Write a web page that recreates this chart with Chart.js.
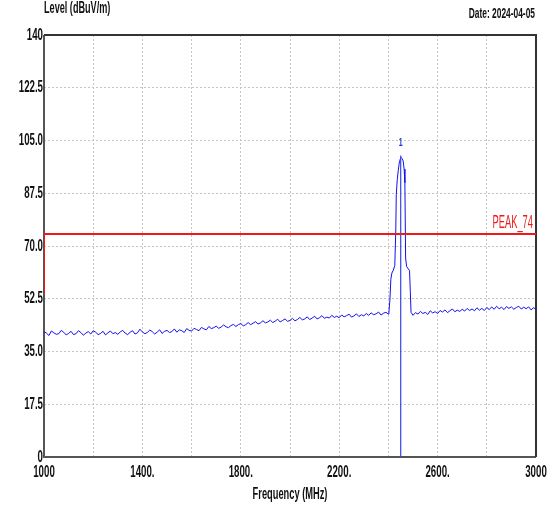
<!DOCTYPE html>
<html>
<head>
<meta charset="utf-8">
<script src="https://cdn.jsdelivr.net/npm/chart.js@4/dist/chart.umd.min.js"></script>
<style>
  html, body { margin: 0; padding: 0; background: #fff; }
  #wrap { width: 557px; height: 506px; }
</style>
</head>
<body>
<div id="wrap"><canvas id="levelChart" width="557" height="506"></canvas></div>
<script>
// tick labels
const xTickLabels = { 1000: '1000', 1400: '1400.', 1800: '1800.', 2200: '2200.', 2600: '2600.', 3000: '3000' };
const yTickLabels = ['0', '17.5', '35.0', '52.5', '70.0', '87.5', '105.0', '122.5', '140'];

// sweep before the peak: 1000 .. 2400 MHz, one reading every 10 MHz
const sweepStart = 1000;
const sweepStep = 10;
const lowLevels = [
  41.6, 41.1, 40.3, 41.8, 41.2, 40.7, 40.9, 42.0, 41.4, 40.5,
  41.0, 41.7, 40.6, 40.9, 41.9, 41.3, 40.4, 41.1, 41.6, 40.8,
  41.9, 41.4, 40.6, 41.0, 41.7, 40.5, 41.2, 41.8, 40.9, 41.3,
  40.7, 41.5, 42.0, 41.1, 40.6, 41.4, 41.9, 40.8, 41.2, 42.4,
  41.5, 40.9, 41.3, 42.1, 41.6, 40.8, 41.4, 42.2, 41.0, 41.7,
  42.0, 41.3, 41.6, 42.5, 41.4, 42.2, 41.9, 41.3, 42.6, 42.0,
  41.8, 42.7, 42.3, 41.9, 43.0, 42.5, 42.2, 43.3, 42.6, 42.9,
  43.4, 42.7, 43.1, 43.8, 43.2, 42.9, 43.6, 44.0, 43.3, 43.9,
  44.3, 43.5, 43.9, 44.6, 43.9, 44.4, 44.9, 44.1, 44.5, 45.2,
  44.5, 44.8, 45.4, 44.6, 45.1, 45.7, 44.8, 45.3, 45.8, 45.0,
  45.3, 46.0, 45.2, 45.6, 46.3, 45.5, 45.8, 46.5, 45.6, 46.1,
  46.7, 45.8, 46.2, 46.9, 46.0, 46.4, 46.1, 47.0, 46.3, 46.7,
  46.2, 47.1, 46.5, 46.9, 47.4, 46.4, 46.8, 47.5, 46.6, 47.2,
  46.8, 47.6, 47.0, 47.8, 47.2, 47.5, 48.1, 47.1, 47.7, 48.0,
  47.4
];

// the signal around 2.45 GHz
const peakFreqs  = [2402, 2406, 2410, 2414, 2420, 2426, 2430, 2432, 2436, 2440, 2444, 2448, 2452, 2456, 2460, 2464, 2467, 2470, 2474, 2480, 2486, 2489, 2492];
const peakLevels = [48.0, 52.0, 59.0, 61.0, 62.0, 63.5, 75.0, 87.0, 92.0, 95.0, 97.5, 98.8, 99.3, 99.0, 98.2, 95.5, 91.0, 66.0, 63.2, 62.5, 61.8, 55.0, 48.0];

// sweep after the peak: 2500 .. 3000 MHz
const highStart = 2500;
const highLevels = [
  47.0, 47.9, 47.4, 48.3, 47.6, 48.0, 47.3, 48.5, 47.8, 48.2,
  47.6, 48.6, 48.1, 48.8, 47.9, 48.5, 49.1, 48.2, 48.7, 48.3,
  49.0, 48.4, 49.3, 48.6, 49.1, 48.5, 49.5, 48.7, 49.3, 48.6,
  49.6, 48.9, 49.8, 49.0, 50.0, 49.2, 49.7, 48.9, 49.9, 49.3,
  49.8, 49.0, 49.6, 50.0, 49.1, 49.7, 49.2, 49.8, 48.8, 49.5,
  49.0
];

// limit line and marker
const limitFreqs = [1000, 1000, 3000];
const limitLevels = [54, 74, 74];
const limitName = 'PEAK_74';
const markerFreq = 2450;
const markerLevels = [0, 100];
const markerLabel = '1';
const markerLabelLevel = 104;

const trace = [];
lowLevels.forEach((v, i) => trace.push({ x: sweepStart + i * sweepStep, y: v }));
peakFreqs.forEach((f, i) => trace.push({ x: f, y: peakLevels[i] }));
highLevels.forEach((v, i) => trace.push({ x: highStart + i * sweepStep, y: v }));

const limit = limitFreqs.map((f, i) => ({ x: f, y: limitLevels[i] }));
const marker = markerLevels.map(v => ({ x: markerFreq, y: v }));

const FONT = "'Liberation Sans', Arial, sans-serif";
const textColor = '#111';
const red = 'rgb(240,25,25)';

// the reference uses a narrow font, so squeeze the text sideways
function narrowText(ctx, text, x, y, font, sx, align, color) {
  ctx.save();
  ctx.font = font;
  ctx.fillStyle = color;
  ctx.textAlign = align;
  ctx.textBaseline = 'middle';
  ctx.translate(x, y);
  ctx.scale(sx, 1);
  ctx.fillText(text, 0, 0);
  ctx.restore();
}

const extras = {
  id: 'extras',
  beforeDatasetsDraw(chart) {
    const { ctx, chartArea: a } = chart;
    ctx.save();
    // frame: grey axes on left/bottom, dark top/right
    ctx.lineWidth = 2;
    ctx.strokeStyle = '#555';
    ctx.beginPath();
    ctx.moveTo(a.left, a.top);
    ctx.lineTo(a.left, a.bottom);
    ctx.lineTo(a.right, a.bottom);
    ctx.stroke();
    ctx.strokeStyle = '#333';
    ctx.beginPath();
    ctx.moveTo(a.left, a.top);
    ctx.lineTo(a.right, a.top);
    ctx.lineTo(a.right, a.bottom);
    ctx.stroke();
    ctx.restore();
  },
  afterDraw(chart) {
    const { ctx, chartArea: a, scales } = chart;

    // tick labels, placed by the scales
    scales.y.ticks.forEach((t, i) => {
      narrowText(ctx, yTickLabels[i], a.left - 1, scales.y.getPixelForValue(t.value), 'bold 17px ' + FONT, 0.57, 'right', textColor);
    });
    scales.x.ticks.forEach(t => {
      const lbl = xTickLabels[t.value];
      if (lbl) narrowText(ctx, lbl, scales.x.getPixelForValue(t.value), a.bottom + 15, 'bold 17px ' + FONT, 0.57, 'center', textColor);
    });

    narrowText(ctx, 'Frequency (MHz)', (a.left + a.right) / 2, 495, 'bold 16px ' + FONT, 0.58, 'center', textColor);
    narrowText(ctx, 'Level (dBuV/m)', a.left, 9, 'bold 16px ' + FONT, 0.57, 'left', textColor);
    narrowText(ctx, 'Date: 2024-04-05', 535, 14, 'bold 15px ' + FONT, 0.56, 'right', textColor);

    narrowText(ctx, limitName, a.right - 3, scales.y.getPixelForValue(74) - 11, '18px ' + FONT, 0.52, 'right', red);
    narrowText(ctx, markerLabel, scales.x.getPixelForValue(markerFreq), scales.y.getPixelForValue(markerLabelLevel), 'bold 10px ' + FONT, 0.7, 'center', '#2030e0');
  }
};

const ctx = document.getElementById('levelChart').getContext('2d');
new Chart(ctx, {
  type: 'scatter',
  data: {
    datasets: [
      {
        label: limitName,
        data: limit,
        showLine: true,
        borderColor: red,
        borderWidth: 2,
        pointRadius: 0,
        tension: 0
      },
      {
        label: 'marker',
        data: marker,
        showLine: true,
        borderColor: '#3344ee',
        borderWidth: 1.2,
        pointRadius: 0
      },
      {
        label: 'Level',
        data: trace,
        showLine: true,
        borderColor: '#1010f0',
        borderWidth: 1,
        pointRadius: 0,
        tension: 0
      }
    ]
  },
  options: {
    responsive: false,
    devicePixelRatio: 1,
    animation: false,
    events: [],
    layout: { padding: { top: 35, right: 21, left: 0, bottom: 0 } },
    plugins: {
      legend: { display: false },
      tooltip: { enabled: false }
    },
    scales: {
      x: {
        type: 'linear',
        min: 1000,
        max: 3000,
        afterFit(scale) { scale.height = 49; },
        border: { display: false, dash: [2, 2] },
        grid: { color: '#c4c4c4', lineWidth: 1, drawTicks: false },
        ticks: { stepSize: 200, autoSkip: false, maxRotation: 0, display: false }
      },
      y: {
        type: 'linear',
        min: 0,
        max: 140,
        afterFit(scale) { scale.width = 44; },
        border: { display: false, dash: [2, 2] },
        grid: { color: '#c4c4c4', lineWidth: 1, drawTicks: false },
        ticks: { stepSize: 17.5, autoSkip: false, display: false }
      }
    }
  },
  plugins: [extras]
});
</script>
</body>
</html>
